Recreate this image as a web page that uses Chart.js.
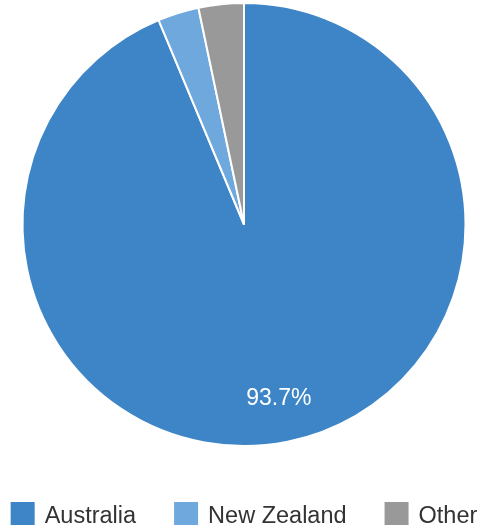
<!DOCTYPE html>
<html lang="en">
<head>
<meta charset="UTF-8" />
<title>Share by country</title>
<script src="https://cdn.jsdelivr.net/npm/chart.js@4.4.1/dist/chart.umd.min.js"></script>
<style>
  html,body{margin:0;padding:0;background:#fff}
  #wrap{width:496px;height:530px}
</style>
</head>
<body>
<div id="wrap"><canvas id="pie"></canvas></div>
<script>
const labels = ['Australia', 'New Zealand', 'Other'];
const shares = [93.7, 3.0, 3.3];
const colors = ['#3d85c6', '#6fa8dc', '#999999'];

const FONT = '"Liberation Sans", Arial, sans-serif';

// percentage inside slices that are big enough
const sliceLabels = {
  id: 'sliceLabels',
  afterDatasetsDraw(chart) {
    const ctx = chart.ctx;
    const meta = chart.getDatasetMeta(0);
    const total = shares.reduce((a, b) => a + b, 0);
    ctx.save();
    ctx.font = '23px ' + FONT;
    ctx.fillStyle = '#ffffff';
    ctx.textAlign = 'center';
    ctx.textBaseline = 'middle';
    meta.data.forEach((arc, i) => {
      const pct = shares[i] / total * 100;
      if (pct < 10) return;
      const p = arc.getProps(['x', 'y', 'startAngle', 'endAngle', 'outerRadius']);
      const mid = (p.startAngle + p.endAngle) / 2;
      const r = p.outerRadius * 0.8;
      ctx.fillText(pct.toFixed(1) + '%', p.x + Math.cos(mid) * r, p.y + Math.sin(mid) * r);
    });
    ctx.restore();
  }
};

// legend row under the pie, drawn on the canvas
const bottomLegend = {
  id: 'bottomLegend',
  afterDraw(chart) {
    const ctx = chart.ctx;
    const box = 24, textGap = 10, itemGap = 38;
    ctx.save();
    ctx.font = '23.5px ' + FONT;
    const widths = labels.map(l => ctx.measureText(l).width);
    const total = widths.reduce((a, w) => a + w + box + textGap, 0) + itemGap * (labels.length - 1);
    let x = 244 - total / 2;
    const top = 502;
    labels.forEach((l, i) => {
      ctx.fillStyle = colors[i];
      ctx.fillRect(x, top, box, 23);
      ctx.fillStyle = '#333333';
      ctx.textBaseline = 'alphabetic';
      ctx.textAlign = 'left';
      ctx.fillText(l, x + box + textGap, 523);
      x += box + textGap + widths[i] + itemGap;
    });
    ctx.restore();
  }
};

new Chart(document.getElementById('pie'), {
  type: 'pie',
  data: {
    labels,
    datasets: [{ data: shares, backgroundColor: colors, borderColor: '#ffffff', borderWidth: 2 }]
  },
  options: {
    responsive: true,
    maintainAspectRatio: false,
    animation: false,
    layout: { padding: { top: 2, bottom: 83, left: 0, right: 8 } },
    plugins: {
      tooltip: { enabled: false },
      legend: { display: false }
    }
  },
  plugins: [sliceLabels, bottomLegend]
});
</script>
</body>
</html>
